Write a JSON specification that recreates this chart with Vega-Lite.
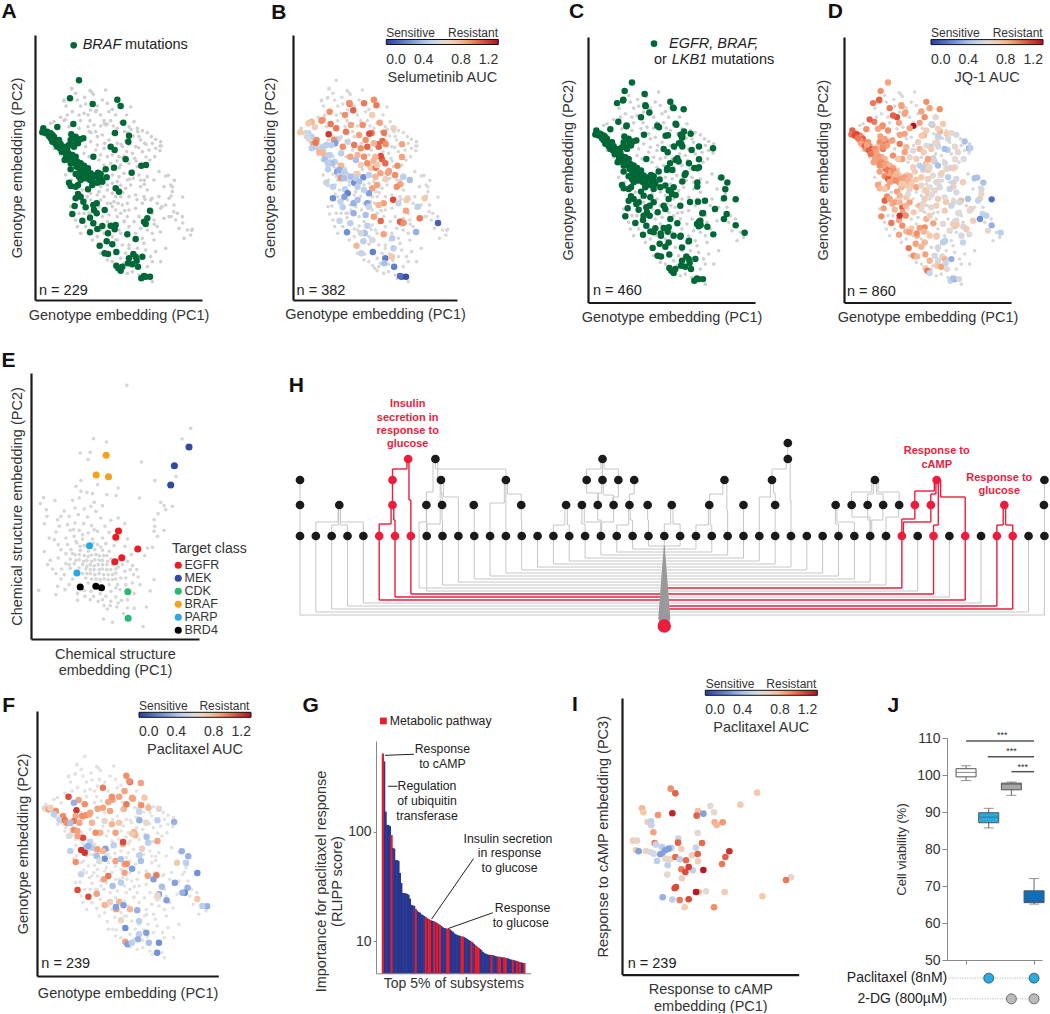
{"$schema":"https://vega.github.io/schema/vega-lite/v6.json","padding":0,"bounds":"flush","spacing":0,
"config":{"view":{"stroke":null},"font":"Liberation Sans","text":{"font":"Liberation Sans"},
"axis":{"grid":false,"labels":false,"ticks":false,"domainColor":"#1a1a1a","domainWidth":2.2,"titleFont":"Liberation Sans","titleFontSize":14.5,"titleFontWeight":"normal","titleColor":"#333","titlePadding":8,"labelFont":"Liberation Sans","labelColor":"#333"},
"legend":{"titleFont":"Liberation Sans","labelFont":"Liberation Sans","titleFontWeight":"normal","titleColor":"#333","labelColor":"#333"}},
"resolve":{"scale":{"color":"independent"},"legend":{"color":"independent"}},
"datasets":{
"cells":[
{"x":235,"y":241,"a":1,"j":0.85},{"x":208,"y":295,"a":1,"j":0.95},{"x":276,"y":312,"a":1,"s":0.95,"j":0.85},{"x":350,"y":299,"a":1,"s":0.9,"j":0.9,"p":0.9},{"x":360,"y":318,"a":1,"j":0.85,"p":1.0},{"x":368,"y":368,"a":1,"s":0.85,"j":0.8,"p":0.85},{"x":218,"y":372,"a":1,"s":0.95,"j":0.95,"p":0.85},{"x":170,"y":381,"a":1,"s":0.7,"j":0.9},{"x":343,"y":399,"a":1,"s":0.95,"j":0.8,"p":0.8},{"x":385,"y":407,"a":1,"j":0.7,"p":0.5},{"x":383,"y":425,"a":1,"s":0.7,"j":0.55},{"x":128,"y":385,"a":1,"j":1.0},{"x":125,"y":397,"a":1,"s":0.75,"j":0.95,"p":0.65},{"x":135,"y":400,"a":1,"j":1.05,"p":0.85},{"x":150,"y":400,"a":1,"s":0.5,"j":0.95},{"x":155,"y":405,"a":1,"j":0.9,"p":0.9},{"x":160,"y":410,"a":1,"s":0.45,"j":1.0},{"x":150,"y":415,"a":1,"s":0.55,"j":0.85,"p":0.45},{"x":165,"y":420,"a":1,"j":0.95},{"x":175,"y":420,"a":1,"s":0.9,"j":0.9,"p":0.9},{"x":155,"y":425,"a":1,"j":0.85},{"x":165,"y":432,"a":1,"s":0.85,"j":1.0,"p":0.5},{"x":180,"y":432,"a":1,"j":0.9,"p":0.95},{"x":170,"y":440,"a":1,"s":0.45,"j":0.9},{"x":185,"y":440,"a":1,"j":1.0,"p":0.9},{"x":190,"y":447,"a":1,"s":0.55,"j":0.85},{"x":212,"y":403,"a":1,"s":1.1,"j":0.85,"p":1.1},{"x":238,"y":418,"a":1,"s":0.5,"j":0.8,"p":0.9},{"x":248,"y":415,"a":1,"j":0.85,"p":0.85},{"x":228,"y":420,"a":1,"s":0.9,"j":0.95,"p":0.9},{"x":232,"y":430,"a":1,"s":0.3,"j":0.85},{"x":210,"y":420,"a":1,"j":0.9,"p":0.85},{"x":205,"y":435,"a":1,"s":0.45,"j":0.8,"p":0.95},{"x":220,"y":440,"a":1,"j":0.95,"p":0.85},{"x":195,"y":460,"a":1,"s":0.8,"j":0.85},{"x":205,"y":462,"a":1,"j":0.9,"p":0.9},{"x":215,"y":465,"a":1,"s":0.45,"j":0.85,"p":0.85},{"x":225,"y":470,"a":1,"j":0.8},{"x":200,"y":478,"a":1,"s":0.4,"j":0.9},{"x":192,"y":480,"a":1,"j":0.85,"p":0.6},{"x":230,"y":485,"a":1,"s":0.45,"j":0.85,"p":1.05},{"x":240,"y":490,"a":1,"j":0.8},{"x":250,"y":497,"a":1,"s":0.8,"j":0.85,"p":0.5},{"x":262,"y":505,"a":1,"j":0.75},{"x":278,"y":470,"a":1,"s":0.85,"j":0.85,"p":0.8},{"x":330,"y":440,"a":1,"s":1.0,"j":0.8,"p":0.75},{"x":342,"y":450,"a":1,"j":0.7},{"x":375,"y":478,"a":1,"s":1.0,"j":0.45,"p":0.8},{"x":340,"y":503,"a":1,"s":0.75,"j":0.65,"p":0.85},{"x":422,"y":497,"a":1,"s":0.9,"j":0.5},{"x":436,"y":495,"a":1,"j":0.65,"p":0.85},{"x":393,"y":518,"a":1,"s":0.85,"j":0.6,"p":0.7},{"x":210,"y":508,"a":1,"s":0.45,"j":0.85},{"x":228,"y":500,"a":1,"j":0.95},{"x":238,"y":515,"a":1,"s":0.3,"j":0.8,"p":0.4},{"x":225,"y":522,"a":1,"j":0.9,"p":1.1},{"x":245,"y":525,"a":1,"s":0.45,"j":0.85},{"x":255,"y":515,"a":1,"j":0.8,"p":0.45},{"x":262,"y":525,"a":1,"s":0.7,"j":0.85},{"x":270,"y":520,"a":1,"j":0.75,"p":0.85},{"x":280,"y":530,"a":1,"s":0.4,"j":0.8},{"x":292,"y":518,"a":1,"j":0.7,"p":0.3},{"x":300,"y":522,"a":1,"s":0.75,"j":0.8},{"x":315,"y":508,"a":1,"j":0.72,"p":0.45},{"x":318,"y":532,"a":1,"s":0.25,"j":0.75},{"x":235,"y":530,"a":1,"j":1.0,"p":1.1},{"x":250,"y":535,"a":1,"s":0.9,"j":0.85},{"x":268,"y":540,"a":1,"j":0.9,"p":0.4},{"x":290,"y":548,"a":1,"s":0.25,"j":0.75,"p":0.25},{"x":275,"y":555,"a":1,"j":0.8,"p":0.6},{"x":262,"y":568,"a":1,"s":0.45,"j":0.85},{"x":300,"y":535,"a":1,"j":0.75},{"x":345,"y":565,"a":1,"s":0.85,"j":0.6,"p":0.85},{"x":355,"y":575,"a":1,"j":0.7},{"x":205,"y":548,"a":1,"s":0.5,"j":0.85},{"x":210,"y":558,"a":1,"j":0.8,"p":0.9},{"x":232,"y":555,"a":1,"j":0.85},{"x":225,"y":560,"a":1,"s":0.45,"j":0.75},{"x":232,"y":582,"a":1,"j":0.9},{"x":225,"y":595,"a":1,"s":0.25,"j":1.0,"p":0.5},{"x":240,"y":590,"a":1,"j":0.85},{"x":248,"y":605,"a":1,"s":0.5,"j":0.8},{"x":222,"y":618,"a":1,"j":0.85},{"x":215,"y":642,"a":1,"j":0.9,"p":1.05},{"x":255,"y":622,"a":1,"s":0.45,"j":0.8},{"x":278,"y":615,"a":1,"j":1.0},{"x":288,"y":610,"a":1,"s":0.35,"j":0.8,"p":0.85},{"x":280,"y":630,"a":1,"j":0.85},{"x":288,"y":640,"a":1,"s":0.35,"j":0.9},{"x":312,"y":630,"a":1,"j":0.75,"p":0.4},{"x":448,"y":632,"a":1,"s":0.85,"j":0.55,"p":0.4},{"x":440,"y":655,"a":1,"j":0.65,"p":0.3},{"x":435,"y":672,"a":1,"s":0.5,"j":0.5},{"x":430,"y":665,"a":1,"s":1.0,"j":0.7},{"x":245,"y":662,"a":1,"s":0.5,"j":0.95,"p":1.05},{"x":268,"y":653,"a":1,"j":0.85,"p":0.85},{"x":278,"y":670,"a":1,"s":0.45,"j":0.9},{"x":290,"y":687,"a":1,"j":0.8,"p":0.8},{"x":268,"y":697,"a":1,"s":0.25,"j":0.85},{"x":305,"y":678,"a":1,"j":0.75,"p":0.7},{"x":330,"y":677,"a":1,"s":0.45,"j":0.85,"p":0.8},{"x":345,"y":675,"a":1,"j":0.9},{"x":322,"y":700,"a":1,"s":0.4,"j":0.8,"p":0.85},{"x":342,"y":688,"a":1,"j":0.8,"p":0.3},{"x":380,"y":703,"a":1,"s":0.85,"j":0.7,"p":0.35},{"x":405,"y":717,"a":1,"j":0.6},{"x":318,"y":724,"a":1,"s":0.45,"j":0.85},{"x":297,"y":737,"a":1,"s":0.8,"j":0.95},{"x":335,"y":733,"a":1,"j":0.8,"p":0.65},{"x":312,"y":760,"a":1,"s":0.5,"j":0.9},{"x":322,"y":762,"a":1,"j":0.8},{"x":347,"y":756,"a":1,"s":0.2,"j":0.85,"p":0.25},{"x":385,"y":775,"a":1,"s":0.2,"j":0.55,"p":0.45},{"x":398,"y":762,"a":1,"j":0.65},{"x":405,"y":770,"a":1,"s":0.75,"j":0.8,"p":0.3},{"x":425,"y":770,"a":1,"j":0.35},{"x":382,"y":790,"a":1,"s":0.4,"j":0.75,"p":0.35},{"x":395,"y":793,"a":1,"j":0.85},{"x":412,"y":800,"a":1,"s":0.2,"j":0.6,"p":0.4},{"x":408,"y":782,"a":1,"j":0.5},{"x":347,"y":797,"a":1,"j":0.7,"p":0.85},{"x":353,"y":805,"a":1,"j":0.95,"p":0.3},{"x":360,"y":812,"a":1,"j":0.5},{"x":365,"y":800,"a":1,"p":0.45},{"x":422,"y":835,"a":1,"j":0.5},{"x":435,"y":830,"a":1,"s":0.1,"j":0.3,"p":0.25},{"x":448,"y":830,"a":1,"s":0.05,"j":0.55},{"x":430,"y":828,"a":1,"s":0.15,"j":0.4},
{"x":140,"y":395,"a":1,"j":1.05,"p":0.7},{"x":145,"y":408,"a":1,"s":0.55,"j":0.95},{"x":172,"y":428,"a":1,"j":0.85,"s":0.95},{"x":178,"y":445,"a":1,"j":1.0},{"x":195,"y":440,"a":1,"s":0.45,"j":0.9,"p":0.4},{"x":200,"y":450,"a":1,"j":0.85},{"x":183,"y":455,"a":1,"s":0.8,"j":0.95},{"x":215,"y":480,"a":1,"j":0.9,"p":0.85},{"x":222,"y":490,"a":1,"s":0.4,"j":0.85},{"x":235,"y":505,"a":1,"j":0.95},{"x":245,"y":510,"a":1,"s":0.35,"j":0.85,"p":0.35},{"x":252,"y":505,"a":1,"j":0.9},{"x":260,"y":515,"a":1,"s":0.45,"j":0.8},{"x":272,"y":530,"a":1,"j":0.85},{"x":258,"y":535,"a":1,"s":0.4,"j":0.9},{"x":285,"y":525,"a":1,"j":0.85,"p":0.8},{"x":295,"y":535,"a":1,"s":0.45,"j":0.8},{"x":275,"y":545,"a":1,"j":0.75},{"x":220,"y":435,"a":1,"s":0.45,"j":0.9},{"x":225,"y":410,"a":1,"j":0.85},{"x":196,"y":470,"a":1,"j":0.85},{"x":210,"y":490,"a":1,"s":0.45,"j":0.9},{"x":240,"y":540,"a":1,"j":0.85},{"x":305,"y":545,"a":1,"s":0.4,"j":0.75},
{"x":213,"y":267,"c":1,"j":0.9},{"x":273,"y":276,"c":1},{"x":209,"y":293,"c":1,"j":1.0},{"x":190,"y":303,"c":1,"j":0.95},{"x":275,"y":309,"c":1,"j":0.85,"s":0.9},{"x":358,"y":316,"c":1,"s":0.95,"p":0.9},{"x":390,"y":321,"c":1,"j":0.9,"p":0.85},{"x":287,"y":331,"c":1,"s":1.0,"j":0.85},{"x":262,"y":345,"c":1,"j":1.05,"s":0.9},{"x":194,"y":359,"c":1,"j":0.95,"s":0.85},{"x":219,"y":370,"c":1,"j":0.9},{"x":311,"y":371,"c":1,"j":1.2,"p":0.85},{"x":316,"y":375,"c":1,"s":0.9},{"x":366,"y":365,"c":1,"j":0.5,"p":0.85},{"x":271,"y":398,"c":1,"j":0.85,"p":0.85},{"x":336,"y":401,"c":1,"s":1.05,"j":0.75},{"x":391,"y":388,"c":1,"j":0.8,"p":0.9},{"x":411,"y":395,"c":1,"j":0.75,"p":0.8},{"x":381,"y":398,"c":1,"s":0.95},{"x":386,"y":403,"c":1,"j":0.5},{"x":376,"y":423,"c":1,"s":0.98,"j":0.65},{"x":361,"y":433,"c":1,"s":1.0,"j":0.45},{"x":386,"y":433,"c":1,"s":0.9,"j":0.55,"p":0.35},{"x":436,"y":433,"c":1,"s":0.85,"j":0.65,"p":0.45},{"x":478,"y":438,"c":1,"j":0.35},{"x":414,"y":443,"c":1,"j":0.45},{"x":371,"y":468,"c":1,"s":1.05,"j":0.5,"p":0.8},{"x":349,"y":483,"c":1,"s":0.8,"j":0.75},{"x":366,"y":473,"c":1,"j":0.7,"p":0.75},{"x":406,"y":483,"c":1,"j":0.55,"p":0.4},{"x":436,"y":471,"c":1,"s":0.85,"j":0.6},{"x":431,"y":498,"c":1,"j":0.7},{"x":341,"y":498,"c":1,"j":0.45,"p":1.05},{"x":356,"y":503,"c":1,"s":0.95,"j":0.75},{"x":396,"y":513,"c":1,"s":0.85,"j":0.7},{"x":503,"y":526,"c":1,"j":0.4,"p":0.35},{"x":521,"y":541,"c":1,"j":0.4,"p":0.35},{"x":386,"y":538,"c":1,"s":0.7,"j":0.6,"p":0.45},{"x":431,"y":541,"c":1,"j":0.5},{"x":431,"y":553,"c":1,"s":0.85,"j":0.7},{"x":351,"y":563,"c":1,"j":0.75,"p":0.9},{"x":366,"y":578,"c":1,"j":0.6,"p":0.3},{"x":515,"y":561,"c":1,"j":0.55,"p":0.45},{"x":511,"y":588,"c":1,"j":0.7},{"x":546,"y":591,"c":1,"j":0.15,"p":0.25},{"x":409,"y":599,"c":1,"s":1.05,"j":0.75,"p":0.85},{"x":433,"y":598,"c":1,"j":0.65,"p":0.95},{"x":454,"y":595,"c":1,"s":0.65,"j":0.8},{"x":484,"y":620,"c":1,"s":0.45,"j":0.7,"p":0.3},{"x":519,"y":635,"c":1,"j":0.5,"p":0.35},{"x":511,"y":650,"c":1,"j":0.25,"p":0.2},{"x":446,"y":633,"c":1,"j":0.6},{"x":436,"y":658,"c":1,"j":0.55,"p":0.65},{"x":441,"y":668,"c":1,"s":0.9,"j":0.75},{"x":371,"y":663,"c":1,"s":0.98,"j":0.85},{"x":461,"y":673,"c":1,"j":0.55,"p":0.3},{"x":546,"y":669,"c":1,"s":0.1,"j":0.35,"p":0.75},{"x":573,"y":691,"c":1,"j":0.45,"p":0.35},{"x":479,"y":696,"c":1,"s":0.35,"j":0.6},{"x":381,"y":700,"c":1,"j":0.75},{"x":406,"y":715,"c":1,"s":0.45,"j":0.45},{"x":321,"y":693,"c":1,"j":0.9,"p":0.3},{"x":300,"y":600,"c":1,"s":0.4,"j":0.85,"p":0.95},{"x":290,"y":585,"c":1,"j":0.75},{"x":330,"y":610,"c":1,"s":0.3,"j":0.8},{"x":345,"y":590,"c":1,"j":0.7,"p":0.85},{"x":300,"y":560,"c":1,"s":0.45,"j":0.7},{"x":320,"y":555,"c":1,"j":0.85,"p":0.85},{"x":270,"y":580,"c":1,"j":0.8,"s":0.2},{"x":360,"y":555,"c":1,"s":0.85,"j":0.6},{"x":335,"y":550,"c":1,"j":0.65,"p":0.4},{"x":380,"y":610,"c":1,"s":0.85,"j":0.7},{"x":350,"y":650,"c":1,"j":0.8,"s":0.85},{"x":335,"y":620,"c":1,"s":0.5,"j":0.65,"p":0.45},{"x":300,"y":690,"c":1,"j":0.85},{"x":360,"y":700,"c":1,"j":0.75,"p":0.8},{"x":345,"y":720,"c":1,"j":0.8,"s":0.55},{"x":385,"y":735,"c":1,"j":0.55,"p":0.45},{"x":255,"y":600,"c":1,"j":0.85},{"x":270,"y":640,"c":1,"j":1.1},
{"x":213,"y":265},{"x":268,"y":272},{"x":315,"y":270},{"x":278,"y":283},{"x":190,"y":300},{"x":230,"y":300},{"x":305,"y":300},{"x":196,"y":318},{"x":240,"y":318,"j":0.95},{"x":255,"y":312},{"x":320,"y":310,"s":0.95},{"x":335,"y":328,"j":0.85},{"x":345,"y":345,"s":0.7,"j":0.9,"p":0.85},{"x":215,"y":335,"s":0.9},{"x":180,"y":352,"j":1.0},{"x":200,"y":345},{"x":250,"y":340,"j":1.0},{"x":285,"y":335,"j":0.85,"p":0.95},{"x":300,"y":345},{"x":160,"y":365,"s":0.8},{"x":190,"y":362,"s":0.9,"p":1.05},{"x":240,"y":362},{"x":268,"y":362,"j":0.85},{"x":310,"y":362,"p":0.9},{"x":330,"y":362,"j":0.85,"p":0.85},{"x":378,"y":345,"j":0.65},{"x":400,"y":365,"j":0.75,"p":0.75},{"x":385,"y":380,"j":0.7},{"x":150,"y":370,"s":0.75},{"x":205,"y":380,"j":0.85,"p":0.35},{"x":235,"y":385,"s":0.95,"j":0.9,"p":0.9},{"x":280,"y":375,"s":0.85},{"x":300,"y":378,"j":0.85,"p":0.85},{"x":320,"y":372},{"x":350,"y":385,"j":0.7,"p":0.95},{"x":410,"y":385,"s":0.7},{"x":425,"y":392,"j":0.65},{"x":440,"y":398,"j":0.55,"p":0.65},{"x":452,"y":410},{"x":465,"y":418,"j":0.4},{"x":480,"y":425},{"x":482,"y":438,"j":0.45,"p":0.35},{"x":478,"y":452},{"x":462,"y":470,"j":0.6},{"x":445,"y":450,"j":0.65},{"x":432,"y":430},{"x":415,"y":410,"j":0.55},{"x":405,"y":440,"j":0.4,"p":0.65},{"x":395,"y":460},{"x":365,"y":440,"s":0.98,"j":0.75},{"x":350,"y":430,"s":0.8,"j":0.6},{"x":325,"y":420,"s":0.9,"j":0.7},{"x":305,"y":405,"s":0.85,"p":0.85},{"x":285,"y":395,"j":0.85,"p":0.85},{"x":265,"y":395,"s":0.95},{"x":250,"y":410,"p":0.85},{"x":270,"y":425,"s":0.5,"j":0.95},{"x":290,"y":435,"s":0.95,"j":0.8,"p":0.65},{"x":310,"y":445,"s":0.9,"j":0.6,"p":0.8},{"x":300,"y":465,"s":0.8,"j":0.65},{"x":285,"y":450,"j":0.85},{"x":255,"y":440,"s":0.9,"p":0.8},{"x":250,"y":460,"j":0.9,"s":0.45},{"x":265,"y":470,"j":0.75,"p":0.9},{"x":295,"y":480,"s":0.4},{"x":320,"y":470,"s":0.9,"j":0.7,"p":0.85},{"x":355,"y":470,"s":0.8,"j":0.85},{"x":385,"y":490,"j":0.4,"s":0.98},{"x":410,"y":500,"j":0.65,"p":0.45},{"x":360,"y":495,"s":0.75,"j":0.65},{"x":330,"y":490,"j":0.45,"s":0.9},{"x":310,"y":495,"s":0.7,"j":0.7},{"x":370,"y":520,"s":0.85,"j":0.6},{"x":415,"y":525,"j":0.45,"s":0.9},{"x":440,"y":530,"s":0.45,"j":0.55},{"x":380,"y":540,"j":0.65},{"x":355,"y":530,"s":0.8,"j":0.7},{"x":335,"y":525,"s":0.45,"j":0.75},{"x":390,"y":555,"j":0.55,"p":0.4},{"x":375,"y":565,"j":0.65},{"x":460,"y":540,"j":0.7,"s":0.4},{"x":495,"y":528,"j":0.4},{"x":510,"y":555},{"x":515,"y":575,"j":0.65},{"x":490,"y":560,"p":0.75},{"x":475,"y":590,"j":0.4},{"x":440,"y":570,"j":0.55},{"x":420,"y":560,"s":0.9,"j":0.5},{"x":405,"y":585,"j":0.6},{"x":385,"y":590,"j":0.7},{"x":360,"y":590},{"x":335,"y":580,"s":0.3},{"x":320,"y":570,"s":0.45},{"x":295,"y":575,"j":0.6},{"x":310,"y":590},{"x":340,"y":605,"j":0.65},{"x":365,"y":615,"s":0.8,"j":0.65},{"x":385,"y":630},{"x":405,"y":625,"j":0.7},{"x":425,"y":610,"s":0.5,"j":0.5,"p":0.3},{"x":450,"y":600,"j":0.55,"s":0.75},{"x":480,"y":625,"j":0.65},{"x":505,"y":595,"j":0.5,"s":0.75},{"x":520,"y":615},{"x":530,"y":640,"j":0.45},{"x":505,"y":650,"p":0.35},{"x":490,"y":655,"j":0.7,"s":0.95},{"x":525,"y":660},{"x":545,"y":650},{"x":560,"y":690,"p":0.45},{"x":575,"y":688},{"x":570,"y":705},{"x":550,"y":715},{"x":535,"y":685,"j":0.65},{"x":460,"y":660},{"x":470,"y":680,"j":0.75},{"x":455,"y":700,"j":0.55},{"x":440,"y":690},{"x":420,"y":685,"j":0.65},{"x":400,"y":665,"j":0.65},{"x":380,"y":650},{"x":360,"y":640,"j":0.7},{"x":345,"y":630},{"x":325,"y":645,"s":0.4},{"x":305,"y":650},{"x":295,"y":620},{"x":270,"y":600,"j":0.8},{"x":260,"y":590,"s":0.3},{"x":245,"y":570},{"x":195,"y":525,"p":0.45},{"x":180,"y":465},{"x":160,"y":445,"s":0.45},{"x":212,"y":540},{"x":265,"y":640},{"x":250,"y":640},{"x":230,"y":680},{"x":240,"y":700},{"x":290,"y":710},{"x":310,"y":700,"s":0.55},{"x":355,"y":690},{"x":370,"y":665},{"x":400,"y":720,"j":0.45},{"x":430,"y":730},{"x":460,"y":720,"j":0.5},{"x":495,"y":745},{"x":465,"y":755},{"x":450,"y":770},{"x":455,"y":785},{"x":480,"y":785},{"x":435,"y":750},{"x":410,"y":745,"s":0.45},{"x":385,"y":745},{"x":365,"y":735},{"x":350,"y":720},{"x":375,"y":760,"j":0.55},{"x":360,"y":775,"j":0.8},{"x":335,"y":785},{"x":320,"y":780},{"x":380,"y":820},{"x":395,"y":815},{"x":440,"y":800,"p":0.25},{"x":455,"y":845},{"x":235,"y":640},{"x":225,"y":660},{"x":210,"y":620},{"x":255,"y":680},{"x":275,"y":720},{"x":300,"y":760},
{"x":225,"y":280},{"x":252,"y":292},{"x":290,"y":318},{"x":325,"y":335},{"x":270,"y":330},{"x":235,"y":345},{"x":360,"y":368},{"x":338,"y":378},{"x":262,"y":380},{"x":372,"y":395},{"x":398,"y":408},{"x":420,"y":420},{"x":455,"y":430},{"x":465,"y":445},{"x":425,"y":455},{"x":402,"y":475},{"x":378,"y":455},{"x":335,"y":465},{"x":312,"y":430},{"x":290,"y":410},{"x":448,"y":480},{"x":475,"y":515},{"x":420,"y":540},{"x":398,"y":535},{"x":350,"y":545},{"x":352,"y":610},{"x":320,"y":610},{"x":372,"y":632},{"x":415,"y":650},{"x":455,"y":640},{"x":495,"y":615},{"x":430,"y":590},{"x":470,"y":610},{"x":320,"y":665},{"x":385,"y":680},{"x":405,"y":700},{"x":425,"y":715},{"x":335,"y":710},{"x":370,"y":790},{"x":415,"y":825}
],
"drugs":[
{"x":378,"y":47},{"x":570,"y":176},{"x":544,"y":208},{"x":278,"y":207},{"x":317,"y":217},{"x":238,"y":250},{"x":268,"y":248},{"x":262,"y":270},{"x":422,"y":277},{"x":526,"y":320},{"x":462,"y":333},{"x":290,"y":345},{"x":240,"y":333},{"x":352,"y":355},{"x":225,"y":350},{"x":240,"y":365},{"x":258,"y":368},{"x":275,"y":372},{"x":318,"y":375},{"x":346,"y":378},{"x":416,"y":385},{"x":128,"y":384},{"x":162,"y":393},{"x":118,"y":402},{"x":235,"y":385},{"x":215,"y":392},{"x":280,"y":398},{"x":305,"y":408},{"x":480,"y":398},{"x":490,"y":408},{"x":515,"y":410},{"x":136,"y":420},{"x":190,"y":424},{"x":222,"y":415},{"x":250,"y":418},{"x":270,"y":410},{"x":285,"y":425},{"x":495,"y":420},{"x":472,"y":432},{"x":170,"y":450},{"x":130,"y":462},{"x":138,"y":440},{"x":180,"y":440},{"x":205,"y":440},{"x":232,"y":435},{"x":260,"y":442},{"x":300,"y":445},{"x":330,"y":452},{"x":352,"y":445},{"x":460,"y":450},{"x":175,"y":470},{"x":200,"y":465},{"x":222,"y":460},{"x":248,"y":462},{"x":272,"y":468},{"x":312,"y":470},{"x":372,"y":462},{"x":462,"y":470},{"x":490,"y":482},{"x":460,"y":485},{"x":165,"y":487},{"x":208,"y":482},{"x":235,"y":482},{"x":262,"y":490},{"x":290,"y":485},{"x":325,"y":488},{"x":145,"y":505},{"x":160,"y":510},{"x":195,"y":505},{"x":220,"y":500},{"x":245,"y":508},{"x":275,"y":508},{"x":305,"y":505},{"x":380,"y":508},{"x":470,"y":500},{"x":172,"y":525},{"x":200,"y":525},{"x":228,"y":520},{"x":250,"y":528},{"x":290,"y":525},{"x":315,"y":522},{"x":340,"y":528},{"x":372,"y":530},{"x":440,"y":535},{"x":455,"y":533},{"x":130,"y":546},{"x":180,"y":540},{"x":210,"y":540},{"x":238,"y":542},{"x":262,"y":545},{"x":282,"y":540},{"x":305,"y":542},{"x":325,"y":545},{"x":195,"y":552},{"x":222,"y":555},{"x":250,"y":558},{"x":272,"y":556},{"x":295,"y":558},{"x":318,"y":558},{"x":392,"y":555},{"x":432,"y":558},{"x":148,"y":572},{"x":172,"y":565},{"x":208,"y":568},{"x":235,"y":570},{"x":258,"y":572},{"x":282,"y":570},{"x":305,"y":572},{"x":330,"y":568},{"x":380,"y":575},{"x":140,"y":585},{"x":195,"y":582},{"x":220,"y":582},{"x":245,"y":585},{"x":268,"y":585},{"x":292,"y":585},{"x":318,"y":585},{"x":395,"y":588},{"x":155,"y":598},{"x":182,"y":598},{"x":208,"y":596},{"x":255,"y":598},{"x":280,"y":600},{"x":305,"y":598},{"x":330,"y":600},{"x":352,"y":592},{"x":408,"y":600},{"x":165,"y":612},{"x":190,"y":615},{"x":245,"y":612},{"x":268,"y":612},{"x":295,"y":612},{"x":322,"y":615},{"x":345,"y":610},{"x":372,"y":605},{"x":398,"y":615},{"x":180,"y":628},{"x":215,"y":628},{"x":255,"y":625},{"x":285,"y":628},{"x":310,"y":628},{"x":335,"y":630},{"x":360,"y":625},{"x":412,"y":622},{"x":460,"y":630},{"x":205,"y":645},{"x":262,"y":640},{"x":325,"y":645},{"x":350,"y":645},{"x":418,"y":645},{"x":113,"y":662},{"x":170,"y":650},{"x":192,"y":660},{"x":270,"y":665},{"x":330,"y":665},{"x":358,"y":660},{"x":448,"y":664},{"x":165,"y":675},{"x":230,"y":672},{"x":252,"y":680},{"x":298,"y":672},{"x":315,"y":680},{"x":345,"y":682},{"x":400,"y":672},{"x":230,"y":692},{"x":268,"y":690},{"x":292,"y":695},{"x":330,"y":695},{"x":362,"y":692},{"x":310,"y":708},{"x":348,"y":712},{"x":320,"y":718},{"x":380,"y":715},{"x":400,"y":716},{"x":437,"y":712},{"x":368,"y":732},{"x":308,"y":748},{"x":335,"y":758},{"x":427,"y":771},
{"x":225,"y":515},{"x":238,"y":530},{"x":268,"y":532},{"x":278,"y":520},{"x":300,"y":532},{"x":215,"y":552},{"x":235,"y":555},{"x":262,"y":560},{"x":285,"y":555},{"x":308,"y":558},{"x":225,"y":572},{"x":248,"y":575},{"x":272,"y":575},{"x":295,"y":572},{"x":320,"y":575},{"x":205,"y":585},{"x":235,"y":595},{"x":258,"y":590},{"x":280,"y":588},{"x":305,"y":585},{"x":335,"y":585},{"x":268,"y":600},{"x":295,"y":600},{"x":318,"y":600},{"x":345,"y":598},{"x":258,"y":612},{"x":282,"y":615},{"x":308,"y":615},{"x":335,"y":615},{"x":272,"y":628},{"x":298,"y":630},{"x":322,"y":630},{"x":345,"y":628},{"x":375,"y":625},{"x":388,"y":600},{"x":365,"y":585},{"x":352,"y":570},{"x":218,"y":480},{"x":245,"y":495},{"x":280,"y":480},{"x":345,"y":655},{"x":375,"y":645},{"x":305,"y":690},{"x":278,"y":680},{"x":250,"y":662},{"x":395,"y":640},{"x":380,"y":690},{"x":352,"y":700},{"x":328,"y":708},
{"x":353,"y":484,"k":"EGFR"},{"x":345,"y":503,"k":"EGFR"},{"x":411,"y":538,"k":"EGFR"},{"x":363,"y":564,"k":"EGFR"},{"x":342,"y":576,"k":"EGFR"},{"x":565,"y":232,"k":"MEK"},{"x":521,"y":288,"k":"MEK"},{"x":510,"y":346,"k":"MEK"},{"x":381,"y":666,"k":"CDK"},{"x":382,"y":746,"k":"CDK"},{"x":316,"y":257,"k":"BRAF"},{"x":286,"y":316,"k":"BRAF"},{"x":323,"y":321,"k":"BRAF"},{"x":266,"y":528,"k":"PARP"},{"x":228,"y":610,"k":"PARP"},{"x":238,"y":652,"k":"BRD4"},{"x":285,"y":650,"k":"BRD4"},{"x":302,"y":654,"k":"BRD4"}
],
"camp":[
{"x":266,"y":385,"v":0.9},{"x":280,"y":399,"v":1.0},{"x":525,"y":397,"v":0.75},{"x":475,"y":433,"v":0.72},{"x":385,"y":437,"v":0.6},{"x":180,"y":444,"v":0.8},{"x":184,"y":456,"v":0.75},{"x":228,"y":464,"v":0.88},{"x":271,"y":459,"v":1.15},{"x":348,"y":452,"v":0.78},{"x":344,"y":466,"v":1.0},{"x":364,"y":460,"v":0.3},{"x":396,"y":456,"v":0.65},{"x":197,"y":485,"v":0.7},{"x":207,"y":483,"v":0.45},{"x":208,"y":495,"v":0.5},{"x":398,"y":486,"v":0.82},{"x":404,"y":494,"v":0.8},{"x":422,"y":486,"v":0.88},{"x":214,"y":516,"v":0.85},{"x":347,"y":518,"v":0.63},{"x":289,"y":535,"v":0.5},{"x":288,"y":547,"v":1.0},{"x":153,"y":541,"v":0.68},{"x":165,"y":541,"v":0.68},{"x":218,"y":548,"v":0.95},{"x":222,"y":553,"v":0.5},{"x":360,"y":548,"v":0.98},{"x":342,"y":562,"v":0.5},{"x":162,"y":570,"v":0.75},{"x":170,"y":573,"v":0.3},{"x":192,"y":572,"v":0.68},{"x":205,"y":575,"v":0.55},{"x":215,"y":580,"v":0.55},{"x":240,"y":560,"v":0.45},{"x":268,"y":563,"v":0.45},{"x":260,"y":565,"v":0.3},{"x":250,"y":570,"v":0.3},{"x":240,"y":580,"v":0.3},{"x":235,"y":582,"v":0.3},{"x":298,"y":566,"v":0.7},{"x":225,"y":602,"v":0.45},{"x":250,"y":595,"v":0.65},{"x":265,"y":597,"v":0.65},{"x":280,"y":590,"v":0.98},{"x":293,"y":597,"v":0.45},{"x":330,"y":585,"v":0.7},{"x":347,"y":581,"v":1.0},{"x":442,"y":573,"v":1.12},{"x":430,"y":590,"v":1.0},{"x":420,"y":611,"v":0.95},{"x":348,"y":603,"v":0.7},{"x":312,"y":600,"v":0.98},{"x":257,"y":615,"v":0.45},{"x":332,"y":630,"v":0.45},{"x":298,"y":627,"v":0.95},{"x":320,"y":620,"v":1.08},{"x":310,"y":635,"v":1.05},{"x":364,"y":629,"v":1.18},{"x":256,"y":643,"v":0.65},{"x":300,"y":654,"v":0.7},{"x":627,"y":651,"v":0.63},{"x":612,"y":659,"v":0.95},{"x":278,"y":684,"v":1.05},{"x":282,"y":680,"v":1.05},{"x":350,"y":695,"v":0.8},{"x":342,"y":695,"v":1.18},{"x":372,"y":693,"v":0.62},{"x":428,"y":695,"v":0.72},{"x":242,"y":711,"v":0.35},{"x":271,"y":718,"v":0.45},{"x":293,"y":719,"v":0.95},{"x":320,"y":717,"v":1.05},{"x":308,"y":741,"v":0.72},{"x":396,"y":741,"v":0.9},{"x":541,"y":708,"v":0.75}
],
"rlipp":[
{"r":0,"v":513,"m":1},{"r":1,"v":437},{"r":2,"v":152},{"r":3,"v":115},{"r":4,"v":115},{"r":5,"v":112},{"r":6,"v":93,"m":1},{"r":7,"v":71},{"r":8,"v":70},{"r":9,"v":55},{"r":10,"v":55},{"r":11,"v":54},{"r":12,"v":42},{"r":13,"v":34},{"r":14,"v":27.6},{"r":15,"v":27.5},{"r":16,"v":27.4},{"r":17,"v":27},{"r":18,"v":26.6},{"r":19,"v":24.5},{"r":20,"v":21.5},{"r":21,"v":21.2},{"r":22,"v":21},{"r":23,"v":19.6,"m":1},{"r":24,"v":19},{"r":25,"v":18.5},{"r":26,"v":18.2},{"r":27,"v":17.6},{"r":28,"v":17.3},{"r":29,"v":17},{"r":30,"v":16.6,"m":1},{"r":31,"v":16.2},{"r":32,"v":15.9,"m":1},{"r":33,"v":15.6,"m":1},{"r":34,"v":15.5},{"r":35,"v":15.3},{"r":36,"v":15.1,"m":1},{"r":37,"v":14.9},{"r":38,"v":14.6,"m":1},{"r":39,"v":14.3},{"r":40,"v":14.1,"m":1},{"r":41,"v":13.8},{"r":42,"v":13.4},{"r":43,"v":13.2},{"r":44,"v":13.1},{"r":45,"v":13,"m":1},{"r":46,"v":12.9,"m":1},{"r":47,"v":12.8},{"r":48,"v":12.5},{"r":49,"v":12.2},{"r":50,"v":11.8},{"r":51,"v":11.6},{"r":52,"v":11.4},{"r":53,"v":11.3},{"r":54,"v":11.2},{"r":55,"v":11,"m":1},{"r":56,"v":11,"m":1},{"r":57,"v":10.9},{"r":58,"v":10.7},{"r":59,"v":10.5},{"r":60,"v":10.3},{"r":61,"v":10.1},{"r":62,"v":9.9,"m":1},{"r":63,"v":9.7},{"r":64,"v":9.4},{"r":65,"v":9.1,"m":1},{"r":66,"v":8.9,"m":1},{"r":67,"v":8.7,"m":1},{"r":68,"v":8.5},{"r":69,"v":8.3},{"r":70,"v":8},{"r":71,"v":7.8},{"r":72,"v":7.7},{"r":73,"v":7.6},{"r":74,"v":7.55},{"r":75,"v":7.5},{"r":76,"v":7.5,"m":1},{"r":77,"v":7.45},{"r":78,"v":7.4},{"r":79,"v":7.3},{"r":80,"v":7.25},{"r":81,"v":7.2,"m":1},{"r":82,"v":7.2,"m":1},{"r":83,"v":7.15},{"r":84,"v":7.1},{"r":85,"v":7.1,"m":1},{"r":86,"v":7,"m":1},{"r":87,"v":7},{"r":88,"v":6.95},{"r":89,"v":6.85},{"r":90,"v":6.8},{"r":91,"v":6.75,"m":1},{"r":92,"v":6.7},{"r":93,"v":6.65},{"r":94,"v":6.6,"m":1},{"r":95,"v":6.5},{"r":96,"v":6.45,"m":1},{"r":97,"v":6.4},{"r":98,"v":6.35},{"r":99,"v":6.3,"m":1}
],
"edges":[
{"c":0,"cl":104,"p":23,"pl":25,"m":25},{"c":1,"cl":104,"p":23,"pl":28,"m":28},{"c":2,"cl":104,"p":23,"pl":31,"m":31},{"c":3,"cl":104,"p":23,"pl":34,"m":34},{"c":4,"cl":104,"p":23,"pl":37,"m":37},{"c":8,"cl":104,"p":23,"pl":49,"m":49},{"c":7.52,"cl":118,"p":23,"pl":52,"m":52},{"c":9,"cl":104,"p":23,"pl":55,"m":55},{"c":10,"cl":104,"p":23,"pl":58,"m":58},{"c":11,"cl":104,"p":23,"pl":61,"m":61},{"c":12,"cl":104,"p":23,"pl":64,"m":64},{"c":13,"cl":104,"p":23,"pl":67,"m":67},{"c":14,"cl":104,"p":23,"pl":70,"m":70},{"c":15,"cl":104,"p":23,"pl":73,"m":73},{"c":16,"cl":104,"p":23,"pl":76,"m":76},{"c":17,"cl":104,"p":23,"pl":79,"m":79},{"c":18,"cl":104,"p":23,"pl":82,"m":82},{"c":19,"cl":104,"p":23,"pl":85,"m":85},{"c":20,"cl":104,"p":23,"pl":88,"m":88},{"c":21,"cl":104,"p":23,"pl":91,"m":91},{"c":22,"cl":104,"p":23,"pl":94,"m":94},{"c":23,"cl":104,"p":23,"pl":90,"m":90},{"c":24,"cl":104,"p":23,"pl":94,"m":94},{"c":25,"cl":104,"p":23,"pl":91,"m":91},{"c":26,"cl":104,"p":23,"pl":88,"m":88},{"c":27,"cl":104,"p":23,"pl":85,"m":85},{"c":28,"cl":104,"p":23,"pl":82,"m":82},{"c":29,"cl":104,"p":23,"pl":79,"m":79},{"c":30,"cl":104,"p":23,"pl":76,"m":76},{"c":31,"cl":104,"p":23,"pl":73,"m":73},{"c":32,"cl":104,"p":23,"pl":70,"m":70},{"c":33,"cl":104,"p":23,"pl":67,"m":67},{"c":34,"cl":104,"p":23,"pl":64,"m":64},{"c":35,"cl":104,"p":23,"pl":61,"m":61},{"c":36,"cl":104,"p":23,"pl":58,"m":58},{"c":37,"cl":104,"p":23,"pl":55,"m":55},{"c":39,"cl":104,"p":23,"pl":49,"m":49},{"c":41,"cl":104,"p":23,"pl":43,"m":43},{"c":43,"cl":104,"p":23,"pl":37,"m":37},{"c":46,"cl":104,"p":23,"pl":28,"m":28},{"c":47,"cl":104,"p":23,"pl":25,"m":25},
{"c":0,"cl":104,"p":0,"pl":135,"m":120},{"c":0,"cl":135,"p":0,"pl":160,"m":147},{"c":1,"cl":104,"p":2.4,"pl":135,"m":118},{"c":4,"cl":104,"p":2.56,"pl":135,"m":118},{"c":2,"cl":104,"p":2.42,"pl":135,"m":115},{"c":3,"cl":104,"p":2.54,"pl":135,"m":115},{"c":7.52,"cl":118,"p":7.98,"pl":135,"m":118},{"c":8,"cl":104,"p":7.98,"pl":135,"m":120},{"c":7.98,"cl":135,"p":8.4,"pl":181,"m":148},{"c":8.97,"cl":135,"p":8.9,"pl":160,"m":147},{"c":9,"cl":104,"p":8.97,"pl":135,"m":120},{"c":10,"cl":104,"p":9.05,"pl":160,"m":143},{"c":8.02,"cl":104,"p":8.85,"pl":160,"m":116},{"c":8.7,"cl":160,"p":8.55,"pl":181,"m":171},{"c":13,"cl":160,"p":8.7,"pl":181,"m":171},{"c":11,"cl":104,"p":11,"pl":135,"m":120},{"c":12,"cl":104,"p":12.9,"pl":160,"m":137},{"c":13,"cl":104,"p":13,"pl":160,"m":130},{"c":13.97,"cl":135,"p":13.1,"pl":160,"m":146},{"c":14,"cl":104,"p":13.97,"pl":135,"m":120},{"c":16,"cl":104,"p":16.72,"pl":135,"m":115},{"c":17,"cl":104,"p":16.88,"pl":135,"m":115},{"c":18,"cl":104,"p":17.8,"pl":135,"m":116},{"c":19,"cl":104,"p":17.95,"pl":135,"m":118},{"c":18.8,"cl":135,"p":18.1,"pl":160,"m":147},{"c":18.85,"cl":135,"p":19.05,"pl":160,"m":147},{"c":19.8,"cl":135,"p":19.15,"pl":160,"m":145},{"c":19.75,"cl":135,"p":20.1,"pl":160,"m":143},{"c":20.8,"cl":135,"p":21.1,"pl":160,"m":146},{"c":19,"cl":104,"p":18.8,"pl":135,"m":120},{"c":19.05,"cl":104,"p":19.8,"pl":135,"m":118},{"c":20,"cl":104,"p":20.75,"pl":135,"m":115},{"c":21,"cl":104,"p":20.85,"pl":135,"m":120},{"c":18.1,"cl":160,"p":19,"pl":181,"m":171},{"c":19.1,"cl":160,"p":19.1,"pl":181,"m":171},{"c":20.1,"cl":160,"p":19.2,"pl":181,"m":171},{"c":22,"cl":104,"p":21.95,"pl":135,"m":120},{"c":23,"cl":104,"p":23.4,"pl":135,"m":116},{"c":24,"cl":104,"p":23.55,"pl":135,"m":116},{"c":25,"cl":104,"p":25.78,"pl":135,"m":115},{"c":26,"cl":104,"p":25.9,"pl":135,"m":115},{"c":25.86,"cl":135,"p":26.7,"pl":160,"m":146},{"c":27,"cl":104,"p":26.95,"pl":160,"m":130},{"c":28,"cl":104,"p":28,"pl":135,"m":120},{"c":29,"cl":104,"p":29.7,"pl":160,"m":143},{"c":30,"cl":104,"p":30,"pl":135,"m":120},{"c":30,"cl":135,"p":29.9,"pl":160,"m":147},{"c":29.8,"cl":160,"p":30.7,"pl":181,"m":171},{"c":31,"cl":104,"p":30.95,"pl":181,"m":140},{"c":30.8,"cl":181,"p":30.8,"pl":197,"m":190},{"c":34.83,"cl":135,"p":36.1,"pl":160,"m":148},{"c":35.84,"cl":135,"p":36.2,"pl":160,"m":146},{"c":36.82,"cl":135,"p":36.4,"pl":160,"m":146},{"c":37.83,"cl":135,"p":36.5,"pl":160,"m":148},{"c":34,"cl":104,"p":33.8,"pl":135,"m":116},{"c":35,"cl":104,"p":33.9,"pl":135,"m":118},{"c":36,"cl":104,"p":34.85,"pl":135,"m":123},{"c":36,"cl":104,"p":35.85,"pl":135,"m":120},{"c":36.1,"cl":104,"p":36.8,"pl":135,"m":120},{"c":37,"cl":104,"p":37.8,"pl":135,"m":123},{"c":47,"cl":104,"p":47,"pl":135,"m":120},{"c":47,"cl":135,"p":47,"pl":160,"m":147},
{"c":5,"cl":104,"p":23,"pl":40,"m":40,"r":1},{"c":6,"cl":104,"p":23,"pl":43,"m":43,"r":1},{"c":7,"cl":104,"p":23,"pl":46,"m":46,"r":1},{"c":38,"cl":104,"p":23,"pl":52,"m":52,"r":1},{"c":40,"cl":104,"p":23,"pl":46,"m":46,"r":1},{"c":42,"cl":104,"p":23,"pl":40,"m":40,"r":1},{"c":44,"cl":104,"p":23,"pl":34,"m":34,"r":1},{"c":45,"cl":104,"p":23,"pl":31,"m":31,"r":1},{"c":5,"cl":104,"p":5.75,"pl":135,"m":116,"r":1},{"c":6,"cl":104,"p":5.92,"pl":135,"m":120,"r":1},{"c":5.84,"cl":135,"p":5.84,"pl":160,"m":147,"r":1},{"c":5.84,"cl":160,"p":6.75,"pl":181,"m":171,"r":1},{"c":7,"cl":104,"p":6.88,"pl":181,"m":140,"r":1},{"c":38.82,"cl":135,"p":40.05,"pl":160,"m":149,"r":1},{"c":39.83,"cl":135,"p":40.15,"pl":160,"m":146,"r":1},{"c":40,"cl":104,"p":40.3,"pl":160,"m":115,"r":1},{"c":42,"cl":104,"p":40.45,"pl":160,"m":143,"r":1},{"c":38,"cl":104,"p":38.82,"pl":135,"m":121,"r":1},{"c":38.1,"cl":104,"p":39.83,"pl":135,"m":118,"r":1},{"c":44,"cl":104,"p":44.4,"pl":135,"m":115,"r":1},{"c":45,"cl":104,"p":44.55,"pl":135,"m":115,"r":1}
],
"nodes":[
{"i":0,"l":104},{"i":1,"l":104},{"i":2,"l":104},{"i":3,"l":104},{"i":4,"l":104},{"i":5,"l":104,"r":1},{"i":6,"l":104,"r":1},{"i":7,"l":104,"r":1},{"i":8,"l":104},{"i":9,"l":104},{"i":10,"l":104},{"i":11,"l":104},{"i":12,"l":104},{"i":13,"l":104},{"i":14,"l":104},{"i":15,"l":104},{"i":16,"l":104},{"i":17,"l":104},{"i":18,"l":104},{"i":19,"l":104},{"i":20,"l":104},{"i":21,"l":104},{"i":22,"l":104},{"i":23,"l":104},{"i":24,"l":104},{"i":25,"l":104},{"i":26,"l":104},{"i":27,"l":104},{"i":28,"l":104},{"i":29,"l":104},{"i":30,"l":104},{"i":31,"l":104},{"i":32,"l":104},{"i":33,"l":104},{"i":34,"l":104},{"i":35,"l":104},{"i":36,"l":104},{"i":37,"l":104},{"i":38,"l":104,"r":1},{"i":39,"l":104},{"i":40,"l":104,"r":1},{"i":41,"l":104},{"i":42,"l":104,"r":1},{"i":43,"l":104},{"i":44,"l":104,"r":1},{"i":45,"l":104,"r":1},{"i":46,"l":104},{"i":47,"l":104},
{"i":0,"l":135},{"i":2.48,"l":135},{"i":5.84,"l":135,"r":1},{"i":7.98,"l":135},{"i":8.97,"l":135},{"i":10.97,"l":135},{"i":13.97,"l":135},{"i":16.8,"l":135},{"i":17.8,"l":135},{"i":18.8,"l":135},{"i":19.8,"l":135},{"i":20.8,"l":135},{"i":21.95,"l":135},{"i":23.47,"l":135},{"i":25.84,"l":135},{"i":28,"l":135},{"i":30,"l":135},{"i":33.82,"l":135},{"i":34.83,"l":135},{"i":35.84,"l":135},{"i":36.82,"l":135},{"i":37.83,"l":135},{"i":38.82,"l":135,"r":1},{"i":39.83,"l":135,"r":1},{"i":44.47,"l":135,"r":1},{"i":46.97,"l":135},
{"i":0,"l":160},{"i":5.84,"l":160,"r":1},{"i":8.9,"l":160},{"i":13,"l":160},{"i":18.1,"l":160},{"i":19.1,"l":160},{"i":20.1,"l":160},{"i":21.1,"l":160},{"i":26.8,"l":160},{"i":29.8,"l":160},{"i":36.3,"l":160},{"i":40.2,"l":160,"r":1},{"i":47,"l":160},
{"i":6.83,"l":181,"r":1},{"i":8.55,"l":181},{"i":19.1,"l":181},{"i":30.8,"l":181},{"i":30.8,"l":197}
]
},
"hconcat":[
{"width":30.5,"height":20,"data":{"values":[{"a":0}]},"mark":{"type":"text","opacity":0},"encoding":{}},
{"vconcat":[{"width":20,"height":373,"data":{"values":[{"a":0}]},"mark":{"type":"text","opacity":0},"encoding":{}},
{"width":168,"height":266,
"encoding":{"x":{"field":"x","type":"quantitative","scale":{"domain":[90,595],"nice":false},"axis":{"title":["Chemical structure","embedding (PC1)"]}},"y":{"field":"y","type":"quantitative","scale":{"domain":[808,10],"nice":false},"axis":{"title":"Chemical structure embedding (PC2)","titlePadding":7}}},
"data":{"name":"drugs"},
"layer":[
{"mark":{"type":"circle","color":"#d6d6d6","size":13,"opacity":1}},
{"transform":[{"filter":"isValid(datum.k)"}],"mark":{"type":"circle","size":50,"opacity":1},"encoding":{"color":{"field":"k","type":"nominal","scale":{"domain":["EGFR","MEK","CDK","BRAF","PARP","BRD4"],"range":["#ed1c24","#2f4a9e","#2bb673","#f7a11a","#27aae1","#000000"]},"legend":{"orient":"none","legendX":141,"legendY":169,"title":"Target class","titleFontSize":14,"labelFontSize":12.5,"symbolSize":50,"symbolType":"circle","rowPadding":0,"padding":0,"titlePadding":3,"labelOffset":0}}}},
{"data":{"values":[{"x":1.3,"y":-8,"t":"E"}]},"mark":{"type":"text","align":"left","baseline":"alphabetic","fontSize":21,"fontWeight":"bold","color":"#111"},"encoding":{"text":{"field":"t"}}}
]}],"spacing":0,"bounds":"flush","resolve":{"scale":{"color":"independent"},"legend":{"color":"independent"}}},
{"width":4,"height":20,"data":{"values":[{"a":0}]},"mark":{"type":"text","opacity":0},"encoding":{}},
{"vconcat":[{"width":20,"height":35,"data":{"values":[{"a":0}]},"mark":{"type":"text","opacity":0},"encoding":{}},
{"width":167,"height":265,
"encoding":{"x":{"field":"x","type":"quantitative","scale":{"domain":[103,604],"nice":false},"axis":{"title":"Genotype embedding (PC1)"}},"y":{"field":"y","type":"quantitative","scale":{"domain":[900,105],"nice":false},"axis":{"title":"Genotype embedding (PC2)","titlePadding":10.8}}},
"layer":[
{"data":{"name":"cells"},"mark":{"type":"circle","color":"#cfcfcf","size":13,"opacity":1}},
{"data":{"name":"cells"},"transform":[{"filter":"datum.a==1"}],"mark":{"type":"circle","color":"#006837","size":42,"opacity":1}},
{"data":{"values":[{"x":219,"y":136}]},"mark":{"type":"circle","color":"#006837","size":44,"opacity":1}},
{"data":{"values":[{"x":246,"y":136,"t":"BRAF"}]},"mark":{"type":"text","align":"left","baseline":"middle","fontSize":14.5,"fontStyle":"italic","color":"#222"},"encoding":{"text":{"field":"t"}}},
{"data":{"values":[{"x":373,"y":136,"t":"mutations"},{"x":115,"y":873,"t":"n = 229"}]},"mark":{"type":"text","align":"left","baseline":"middle","fontSize":14.5,"color":"#222"},"encoding":{"text":{"field":"t"}}},
{"data":{"values":[{"x":2.5,"y":54,"t":"A"}]},"mark":{"type":"text","align":"left","baseline":"alphabetic","fontSize":21,"fontWeight":"bold","color":"#111"},"encoding":{"text":{"field":"t"}}}
]}],"spacing":0,"bounds":"flush","resolve":{"scale":{"color":"independent"},"legend":{"color":"independent"}}},
{"width":1.2,"height":20,"data":{"values":[{"a":0}]},"mark":{"type":"text","opacity":0},"encoding":{}},
{"vconcat":[{"width":20,"height":710.7,"data":{"values":[{"a":0}]},"mark":{"type":"text","opacity":0},"encoding":{}},
{"width":181.3,"height":265,
"encoding":{"x":{"field":"x","type":"quantitative","scale":{"domain":[103,604],"nice":false},"axis":{"title":"Genotype embedding (PC1)","titlePadding":10}},"y":{"field":"y","type":"quantitative","scale":{"domain":[900,105],"nice":false},"axis":{"title":"Genotype embedding (PC2)","titlePadding":7}}},
"layer":[
{"data":{"name":"cells"},"mark":{"type":"circle","color":"#e2e2e2","size":13,"opacity":1}},
{"data":{"name":"cells"},"transform":[{"filter":"isValid(datum.p)"}],"mark":{"type":"circle","size":42,"opacity":1},"encoding":{"color":{"field":"p","type":"quantitative","scale":{"interpolate":"rgb","domain":[0,0.25,0.45,0.6,0.75,0.9,1.05,1.2],"range":["#2b3f9e","#6f8fd8","#bcd0ee","#dedcda","#f7c9ac","#f28f68","#dd4a39","#b40f20"]},"legend":{"orient":"none","legendX":102,"legendY":1.3,"direction":"horizontal","gradientLength":112,"gradientThickness":5,"gradientStrokeColor":"#111","gradientStrokeWidth":1,"values":[0,0.4,0.8,1.2],"format":".1f","labelFontSize":14,"labelOffset":8,"padding":0,"title":"Paclitaxel AUC","titleOrient":"bottom","titleFontSize":14.5,"titleAnchor":"middle","titleAlign":"center","titlePadding":4,"encode":{"labels":{"update":{"dx":{"condition":[{"test":"datum.perc<=0","value":-10},{"test":"datum.perc>=1","value":10}],"value":0}}}}}}}},
{"data":{"values":[{"x":452,"y":90,"t":"Sensitive"},{"x":621,"y":90,"t":"Resistant"}]},"mark":{"type":"text","fontSize":12,"baseline":"middle","color":"#333"},"encoding":{"text":{"field":"t"}}},
{"data":{"values":[{"x":115,"y":863,"t":"n = 239"}]},"mark":{"type":"text","align":"left","baseline":"middle","fontSize":14.5,"color":"#222"},"encoding":{"text":{"field":"t"}}},
{"data":{"values":[{"x":7.1,"y":108,"t":"F"}]},"mark":{"type":"text","align":"left","baseline":"alphabetic","fontSize":21,"fontWeight":"bold","color":"#111"},"encoding":{"text":{"field":"t"}}}
]}],"spacing":0,"bounds":"flush","resolve":{"scale":{"color":"independent"},"legend":{"color":"independent"}}},
{"width":256,"height":20,"data":{"values":[{"a":0}]},"mark":{"type":"text","opacity":0},"encoding":{}},
{"vconcat":[{"width":20,"height":34.5,"data":{"values":[{"a":0}]},"mark":{"type":"text","opacity":0},"encoding":{}},
{"width":164,"height":265,
"encoding":{"x":{"field":"x","type":"quantitative","scale":{"domain":[103,604],"nice":false},"axis":{"title":"Genotype embedding (PC1)","titlePadding":7.3}},"y":{"field":"y","type":"quantitative","scale":{"domain":[900,105],"nice":false},"axis":{"title":"Genotype embedding (PC2)","titlePadding":16}}},
"layer":[
{"data":{"name":"cells"},"mark":{"type":"circle","color":"#d8d8d8","size":13,"opacity":1}},
{"data":{"name":"cells"},"transform":[{"filter":"isValid(datum.s)"}],"mark":{"type":"circle","size":42,"opacity":1},"encoding":{"color":{"field":"s","type":"quantitative","scale":{"interpolate":"rgb","domain":[0,0.25,0.45,0.6,0.75,0.9,1.05,1.2],"range":["#2b3f9e","#6f8fd8","#bcd0ee","#dedcda","#f7c9ac","#f28f68","#dd4a39","#b40f20"]},"legend":{"orient":"none","legendX":93.3,"legendY":4.5,"direction":"horizontal","gradientLength":112,"gradientThickness":5,"gradientStrokeColor":"#111","gradientStrokeWidth":1,"values":[0,0.4,0.8,1.2],"format":".1f","labelFontSize":14,"labelOffset":8,"padding":0,"title":"Selumetinib AUC","titleOrient":"bottom","titleFontSize":14.5,"titleAnchor":"middle","titleAlign":"center","titlePadding":4,"encode":{"labels":{"update":{"dx":{"condition":[{"test":"datum.perc<=0","value":-10},{"test":"datum.perc>=1","value":10}],"value":0}}}}}}}},
{"data":{"values":[{"x":462,"y":100,"t":"Sensitive"},{"x":653,"y":100,"t":"Resistant"}]},"mark":{"type":"text","fontSize":12,"baseline":"middle","color":"#333"},"encoding":{"text":{"field":"t"}}},
{"data":{"values":[{"x":114,"y":873,"t":"n = 382"}]},"mark":{"type":"text","align":"left","baseline":"middle","fontSize":14.5,"color":"#222"},"encoding":{"text":{"field":"t"}}},
{"data":{"values":[{"x":36.7,"y":55.5,"t":"B"}]},"mark":{"type":"text","align":"left","baseline":"alphabetic","fontSize":21,"fontWeight":"bold","color":"#111"},"encoding":{"text":{"field":"t"}}}
]}],"spacing":0,"bounds":"flush","resolve":{"scale":{"color":"independent"},"legend":{"color":"independent"}}},
{"width":6.6,"height":20,"data":{"values":[{"a":0}]},"mark":{"type":"text","opacity":0},"encoding":{}},
{"vconcat":[{"width":20,"height":430,"data":{"values":[{"a":0}]},"mark":{"type":"text","opacity":0},"encoding":{}},
{"width":744.4,"height":210,
"layer":[
{"data":{"name":"edges"},"mark":{"type":"rule"},"encoding":{"x":{"field":"c","type":"quantitative","scale":{"domain":[0,47],"nice":false},"axis":null},"y":{"field":"cl","type":"quantitative","scale":{"domain":[0,210],"nice":false},"axis":null},"y2":{"field":"m"},"stroke":{"condition":{"test":"datum.r==1","value":"#ed1c3c"},"value":"#c6c6c6"},"strokeWidth":{"condition":{"test":"datum.r==1","value":1.4},"value":1}}},
{"data":{"name":"edges"},"mark":{"type":"rule"},"encoding":{"x":{"field":"c","type":"quantitative"},"x2":{"field":"p"},"y":{"field":"m","type":"quantitative"},"stroke":{"condition":{"test":"datum.r==1","value":"#ed1c3c"},"value":"#c6c6c6"},"strokeWidth":{"condition":{"test":"datum.r==1","value":1.4},"value":1}}},
{"data":{"name":"edges"},"mark":{"type":"rule"},"encoding":{"x":{"field":"p","type":"quantitative"},"y":{"field":"m","type":"quantitative"},"y2":{"field":"pl"},"stroke":{"condition":{"test":"datum.r==1","value":"#ed1c3c"},"value":"#c6c6c6"},"strokeWidth":{"condition":{"test":"datum.r==1","value":1.4},"value":1}}},
{"data":{"values":[{"i":23,"l":94,"w":0},{"i":23,"l":22,"w":12}]},"mark":{"type":"trail","color":"#999999"},"encoding":{"x":{"field":"i","type":"quantitative"},"y":{"field":"l","type":"quantitative"},"order":{"field":"l"},"size":{"field":"w","type":"quantitative","scale":{"domain":[0,12],"range":[0,12]},"legend":null}}},
{"data":{"values":[{"i":23,"l":14}]},"mark":{"type":"circle","color":"#ed1c3c","size":180,"opacity":1},"encoding":{"x":{"field":"i","type":"quantitative"},"y":{"field":"l","type":"quantitative"}}},
{"data":{"name":"nodes"},"mark":{"type":"circle","size":76,"opacity":1},"encoding":{"x":{"field":"i","type":"quantitative"},"y":{"field":"l","type":"quantitative"},"fill":{"condition":{"test":"datum.r==1","value":"#ed1c3c"},"value":"#1a1a1a"}}},
{"data":{"values":[{"i":6.8,"l":236,"t":"Insulin"},{"i":6.8,"l":222.5,"t":"secretion in"},{"i":6.8,"l":209,"t":"response to"},{"i":6.8,"l":196,"t":"glucose"},{"i":40.2,"l":189,"t":"Response to"},{"i":40.2,"l":175.5,"t":"cAMP"},{"i":44.15,"l":162,"t":"Response to"},{"i":44.15,"l":149,"t":"glucose"}]},"mark":{"type":"text","fontSize":11,"fontWeight":"bold","baseline":"middle","color":"#ed1c3c"},"encoding":{"x":{"field":"i","type":"quantitative"},"y":{"field":"l","type":"quantitative"},"text":{"field":"t"}}},
{"data":{"values":[{"i":-0.71,"l":248,"t":"H"}]},"mark":{"type":"text","align":"left","baseline":"alphabetic","fontSize":21,"fontWeight":"bold","color":"#111"},"encoding":{"x":{"field":"i","type":"quantitative"},"y":{"field":"l","type":"quantitative"},"text":{"field":"t"}}}
]}],"spacing":0,"bounds":"flush","resolve":{"scale":{"color":"independent"},"legend":{"color":"independent"}}},
{"width":75.7,"height":20,"data":{"values":[{"a":0}]},"mark":{"type":"text","opacity":0},"encoding":{}},
{"vconcat":[{"width":20,"height":740.7,"data":{"values":[{"a":0}]},"mark":{"type":"text","opacity":0},"encoding":{}},
{"width":154.7,"height":232.3,
"layer":[
{"data":{"name":"rlipp"},"mark":{"type":"bar","width":2,"color":"#27368f"},"encoding":{"x":{"field":"r","type":"quantitative","scale":{"domain":[-1.3,100],"nice":false},"axis":{"title":"Top 5% of subsystems","domainColor":"#888","domainWidth":1,"titlePadding":3,"titleFontSize":14}},"y":{"field":"v","type":"quantitative","stack":null,"scale":{"type":"log","domain":[5.1,670],"nice":false},"axis":{"title":["Importance for paclitaxel response","(RLIPP score)"],"titleFontSize":14.5,"domainColor":"#888","domainWidth":1,"labels":true,"ticks":true,"values":[10,100],"tickColor":"#888","tickSize":3,"labelFontSize":14,"titleY":140,"titlePadding":3}}}},
{"data":{"name":"rlipp"},"transform":[{"filter":"datum.m==1"}],"mark":{"type":"bar","width":2,"color":"#ed1c24"},"encoding":{"x":{"field":"r","type":"quantitative"},"y":{"field":"v","type":"quantitative","stack":null}}},
{"data":{"values":[{"r":1.5,"r2":21.7,"v":496,"v2":507},{"r":3.7,"r2":10.2,"v":259,"v2":259},{"r":63.5,"r2":34.1,"v":56.8,"v2":15.9},{"r":77,"r2":45.7,"v":18.2,"v2":13.05}]},"mark":{"type":"rule","color":"#222","strokeWidth":1},"encoding":{"x":{"field":"r","type":"quantitative"},"x2":{"field":"r2"},"y":{"field":"v","type":"quantitative"},"y2":{"field":"v2"}}},
{"data":{"values":[{"r":41.7,"v":564,"t":"Response"},{"r":41.7,"v":417,"t":"to cAMP"},{"r":30.9,"v":259,"t":"Regulation"},{"r":30.9,"v":190,"t":"of ubiquitin"},{"r":30.9,"v":140,"t":"transferase"},{"r":87.6,"v":86.3,"t":"Insulin secretion"},{"r":88.7,"v":63.4,"t":"in response"},{"r":88.7,"v":46.6,"t":"to glucose"},{"r":97.8,"v":20.1,"t":"Response"},{"r":96.5,"v":14.8,"t":"to glucose"}]},"mark":{"type":"text","fontSize":12.3,"baseline":"middle","color":"#222"},"encoding":{"x":{"field":"r","type":"quantitative"},"y":{"field":"v","type":"quantitative"},"text":{"field":"t"}}},
{"data":{"values":[{"r":0.4,"v":1021}]},"mark":{"type":"point","shape":"square","filled":true,"color":"#ed1c24","size":45,"opacity":1},"encoding":{"x":{"field":"r","type":"quantitative"},"y":{"field":"v","type":"quantitative"}}},
{"data":{"values":[{"r":4.8,"v":1021,"t":"Metabolic pathway"}]},"mark":{"type":"text","align":"left","fontSize":12.3,"baseline":"middle","color":"#222"},"encoding":{"x":{"field":"r","type":"quantitative"},"y":{"field":"v","type":"quantitative"},"text":{"field":"t"}}},
{"data":{"values":[{"r":-56.3,"v":1233,"t":"G"}]},"mark":{"type":"text","align":"left","baseline":"alphabetic","fontSize":21,"fontWeight":"bold","color":"#111"},"encoding":{"x":{"field":"r","type":"quantitative"},"y":{"field":"v","type":"quantitative"},"text":{"field":"t"}}}
]}],"spacing":0,"bounds":"flush","resolve":{"scale":{"color":"independent"},"legend":{"color":"independent"}}},
{"width":212,"height":20,"data":{"values":[{"a":0}]},"mark":{"type":"text","opacity":0},"encoding":{}},
{"vconcat":[{"width":20,"height":36.7,"data":{"values":[{"a":0}]},"mark":{"type":"text","opacity":0},"encoding":{}},
{"width":167,"height":265.5,
"encoding":{"x":{"field":"x","type":"quantitative","scale":{"domain":[103,604],"nice":false},"axis":{"title":"Genotype embedding (PC1)","titlePadding":8.4}},"y":{"field":"y","type":"quantitative","scale":{"domain":[900,105],"nice":false},"axis":{"title":"Genotype embedding (PC2)","titlePadding":13}}},
"layer":[
{"data":{"name":"cells"},"mark":{"type":"circle","color":"#cfcfcf","size":13,"opacity":1}},
{"data":{"name":"cells"},"transform":[{"filter":"datum.a==1||datum.c==1"}],"mark":{"type":"circle","color":"#006837","size":42,"opacity":1}},
{"data":{"values":[{"x":301,"y":125}]},"mark":{"type":"circle","color":"#006837","size":44,"opacity":1}},
{"data":{"values":[{"x":346,"y":125,"t":"EGFR, BRAF,"},{"x":354,"y":175,"t":"LKB1"}]},"mark":{"type":"text","align":"left","baseline":"middle","fontSize":14.5,"fontStyle":"italic","color":"#222"},"encoding":{"text":{"field":"t"}}},
{"data":{"values":[{"x":301,"y":175,"t":"or"},{"x":473,"y":175,"t":"mutations"},{"x":118,"y":867,"t":"n = 460"}]},"mark":{"type":"text","align":"left","baseline":"middle","fontSize":14.5,"color":"#222"},"encoding":{"text":{"field":"t"}}},
{"data":{"values":[{"x":46,"y":49,"t":"C"}]},"mark":{"type":"text","align":"left","baseline":"alphabetic","fontSize":21,"fontWeight":"bold","color":"#111"},"encoding":{"text":{"field":"t"}}}
]}],"spacing":0,"bounds":"flush","resolve":{"scale":{"color":"independent"},"legend":{"color":"independent"}}},
{"width":34,"height":20,"data":{"values":[{"a":0}]},"mark":{"type":"text","opacity":0},"encoding":{}},
{"vconcat":[{"width":20,"height":697.7,"data":{"values":[{"a":0}]},"mark":{"type":"text","opacity":0},"encoding":{}},
{"width":176.7,"height":276.6,
"encoding":{"x":{"field":"x","type":"quantitative","scale":{"domain":[120,650],"nice":false},"axis":{"title":["Response to cAMP","embedding (PC1)"]}},"y":{"field":"y","type":"quantitative","scale":{"domain":[943,113],"nice":false},"axis":{"title":"Response to cAMP embedding (PC3)","titlePadding":11.5}}},
"layer":[
{"data":{"name":"camp"},"mark":{"type":"circle","size":44,"opacity":1},"encoding":{"color":{"field":"v","type":"quantitative","scale":{"interpolate":"rgb","domain":[0,0.25,0.45,0.6,0.75,0.9,1.05,1.2],"range":["#2b3f9e","#6f8fd8","#bcd0ee","#dedcda","#f7c9ac","#f28f68","#dd4a39","#b40f20"]},"legend":{"orient":"none","legendX":83.3,"legendY":-7.7,"direction":"horizontal","gradientLength":112,"gradientThickness":5,"gradientStrokeColor":"#111","gradientStrokeWidth":1,"values":[0,0.4,0.8,1.2],"format":".1f","labelFontSize":14,"labelOffset":8,"padding":0,"title":"Paclitaxel AUC","titleOrient":"bottom","titleFontSize":14.5,"titleAnchor":"middle","titleAlign":"center","titlePadding":4,"encode":{"labels":{"update":{"dx":{"condition":[{"test":"datum.perc<=0","value":-10},{"test":"datum.perc>=1","value":10}],"value":0}}}}}}}},
{"data":{"values":[{"x":444,"y":71,"t":"Sensitive"},{"x":628,"y":71,"t":"Resistant"}]},"mark":{"type":"text","fontSize":12,"baseline":"middle","color":"#333"},"encoding":{"text":{"field":"t"}}},
{"data":{"values":[{"x":137,"y":910,"t":"n = 239"}]},"mark":{"type":"text","align":"left","baseline":"middle","fontSize":14.5,"color":"#222"},"encoding":{"text":{"field":"t"}}},
{"data":{"values":[{"x":-30,"y":153,"t":"I"}]},"mark":{"type":"text","align":"left","baseline":"alphabetic","fontSize":21,"fontWeight":"bold","color":"#111"},"encoding":{"text":{"field":"t"}}}
]}],"spacing":0,"bounds":"flush","resolve":{"scale":{"color":"independent"},"legend":{"color":"independent"}}},
{"width":221.3,"height":20,"data":{"values":[{"a":0}]},"mark":{"type":"text","opacity":0},"encoding":{}},
{"vconcat":[{"width":20,"height":36.7,"data":{"values":[{"a":0}]},"mark":{"type":"text","opacity":0},"encoding":{}},
{"width":167,"height":265.5,
"encoding":{"x":{"field":"x","type":"quantitative","scale":{"domain":[103,604],"nice":false},"axis":{"title":"Genotype embedding (PC1)","titlePadding":8.4}},"y":{"field":"y","type":"quantitative","scale":{"domain":[900,105],"nice":false},"axis":{"title":"Genotype embedding (PC2)","titlePadding":14}}},
"layer":[
{"data":{"name":"cells"},"mark":{"type":"circle","color":"#d8d8d8","size":13,"opacity":1}},
{"data":{"name":"cells"},"transform":[{"filter":"isValid(datum.j)"}],"mark":{"type":"circle","size":40,"opacity":1},"encoding":{"color":{"field":"j","type":"quantitative","scale":{"interpolate":"rgb","domain":[0,0.25,0.45,0.6,0.75,0.9,1.05,1.2],"range":["#2b3f9e","#6f8fd8","#bcd0ee","#dedcda","#f7c9ac","#f28f68","#dd4a39","#b40f20"]},"legend":{"orient":"none","legendX":87,"legendY":2.6,"direction":"horizontal","gradientLength":112,"gradientThickness":5,"gradientStrokeColor":"#111","gradientStrokeWidth":1,"values":[0,0.4,0.8,1.2],"format":".1f","labelFontSize":14,"labelOffset":8,"padding":0,"title":"JQ-1 AUC","titleOrient":"bottom","titleFontSize":14.5,"titleAnchor":"middle","titleAlign":"center","titlePadding":4,"encode":{"labels":{"update":{"dx":{"condition":[{"test":"datum.perc<=0","value":-10},{"test":"datum.perc>=1","value":10}],"value":0}}}}}}}},
{"data":{"values":[{"x":437,"y":93,"t":"Sensitive"},{"x":624,"y":93,"t":"Resistant"}]},"mark":{"type":"text","fontSize":12,"baseline":"middle","color":"#333"},"encoding":{"text":{"field":"t"}}},
{"data":{"values":[{"x":112,"y":868,"t":"n = 860"}]},"mark":{"type":"text","align":"left","baseline":"middle","fontSize":14.5,"color":"#222"},"encoding":{"text":{"field":"t"}}},
{"data":{"values":[{"x":54,"y":49,"t":"D"}]},"mark":{"type":"text","align":"left","baseline":"alphabetic","fontSize":21,"fontWeight":"bold","color":"#111"},"encoding":{"text":{"field":"t"}}}
]}],"spacing":0,"bounds":"flush","resolve":{"scale":{"color":"independent"},"legend":{"color":"independent"}}},
{"width":103,"height":20,"data":{"values":[{"a":0}]},"mark":{"type":"text","opacity":0},"encoding":{}},
{"vconcat":[{"width":20,"height":738,"data":{"values":[{"a":0}]},"mark":{"type":"text","opacity":0},"encoding":{}},
{"width":95,"height":222,
"data":{"values":[{"g":"Control","c":1,"lo":98.5,"q1":99.5,"med":100.7,"q3":101.7,"hi":102.5},{"g":"Paclitaxel","c":2,"lo":85.7,"q1":87.1,"med":88.6,"q3":89.8,"hi":91},{"g":"2-DG","c":3,"lo":94.5,"q1":96,"med":97.5,"q3":97.8,"hi":98.1},{"g":"Both","c":4,"lo":65.1,"q1":65.5,"med":65.7,"q3":68.7,"hi":72}]},
"layer":[
{"mark":{"type":"rule","color":"#666","strokeWidth":1},"encoding":{"x":{"field":"c","type":"quantitative","scale":{"domain":[0.38,4.13],"nice":false},"axis":{"title":null,"values":[1,2,3,4],"ticks":true,"tickSize":4,"tickColor":"#888","domainColor":"#888","domainWidth":1}},"y":{"field":"lo","type":"quantitative","scale":{"domain":[50,110],"nice":false},"axis":{"title":"Cell viability (%)","titleFontSize":13,"tickCount":7,"labels":true,"ticks":true,"tickSize":5,"tickColor":"#888","domainColor":"#888","domainWidth":1,"labelFontSize":14,"labelOverlap":false,"labelSeparation":0,"labelBound":false,"titlePadding":8}},"y2":{"field":"hi"}}},
{"mark":{"type":"tick","orient":"horizontal","color":"#666","size":10,"thickness":1},"encoding":{"x":{"field":"c","type":"quantitative"},"y":{"field":"hi","type":"quantitative"}}},
{"mark":{"type":"tick","orient":"horizontal","color":"#666","size":10,"thickness":1},"encoding":{"x":{"field":"c","type":"quantitative"},"y":{"field":"lo","type":"quantitative"}}},
{"mark":{"type":"bar","width":20,"stroke":"#555","strokeWidth":1},"encoding":{"x":{"field":"c","type":"quantitative"},"y":{"field":"q1","type":"quantitative"},"y2":{"field":"q3"},"color":{"field":"g","type":"nominal","scale":{"domain":["Control","Paclitaxel","2-DG","Both"],"range":["#ffffff","#29abe2","#a6a6a6","#0f6eb9"]},"legend":null}}},
{"mark":{"type":"tick","orient":"horizontal","color":"#555","size":20,"thickness":1},"encoding":{"x":{"field":"c","type":"quantitative"},"y":{"field":"med","type":"quantitative"}}},
{"data":{"values":[{"a":1,"b":4,"v":109.2},{"a":1.96,"b":4,"v":104.9},{"a":3,"b":4,"v":100.9}]},"mark":{"type":"rule","color":"#555","strokeWidth":1.5},"encoding":{"x":{"field":"a","type":"quantitative"},"x2":{"field":"b"},"y":{"field":"v","type":"quantitative"}}},
{"data":{"values":[{"a":2.6,"v":110.8},{"a":3,"v":106.4},{"a":3.5,"v":102.2}]},"mark":{"type":"text","text":"***","fontSize":9,"baseline":"middle","color":"#333"},"encoding":{"x":{"field":"a","type":"quantitative"},"y":{"field":"v","type":"quantitative"}}},
{"data":{"values":[{"a":0.28,"b":4.15,"v":45.1},{"a":0.28,"b":4.15,"v":39.5}]},"mark":{"type":"rule","color":"#aaa","strokeWidth":1,"strokeDash":[1,1.5]},"encoding":{"x":{"field":"a","type":"quantitative"},"x2":{"field":"b"},"y":{"field":"v","type":"quantitative"}}},
{"data":{"values":[{"a":2,"v":45.1},{"a":4,"v":45.1}]},"mark":{"type":"circle","size":100,"color":"#29abe2","stroke":"#333","strokeWidth":0.7,"opacity":1},"encoding":{"x":{"field":"a","type":"quantitative"},"y":{"field":"v","type":"quantitative"}}},
{"data":{"values":[{"a":3,"v":39.5},{"a":4,"v":39.5}]},"mark":{"type":"circle","size":100,"color":"#bbbbbb","stroke":"#444","strokeWidth":0.7,"opacity":1},"encoding":{"x":{"field":"a","type":"quantitative"},"y":{"field":"v","type":"quantitative"}}},
{"data":{"values":[{"a":0.17,"v":45.1,"t":"Paclitaxel (8nM)"},{"a":0.17,"v":39.5,"t":"2-DG (800µM)"}]},"mark":{"type":"text","align":"right","baseline":"middle","fontSize":14,"color":"#222"},"encoding":{"x":{"field":"a","type":"quantitative"},"y":{"field":"v","type":"quantitative"},"text":{"field":"t"}}},
{"data":{"values":[{"a":-2.47,"v":117.1,"t":"J"}]},"mark":{"type":"text","align":"left","baseline":"alphabetic","fontSize":21,"fontWeight":"bold","color":"#111"},"encoding":{"x":{"field":"a","type":"quantitative"},"y":{"field":"v","type":"quantitative"},"text":{"field":"t"}}}
]}],"spacing":0,"bounds":"flush","resolve":{"scale":{"color":"independent"},"legend":{"color":"independent"}}}
]}
